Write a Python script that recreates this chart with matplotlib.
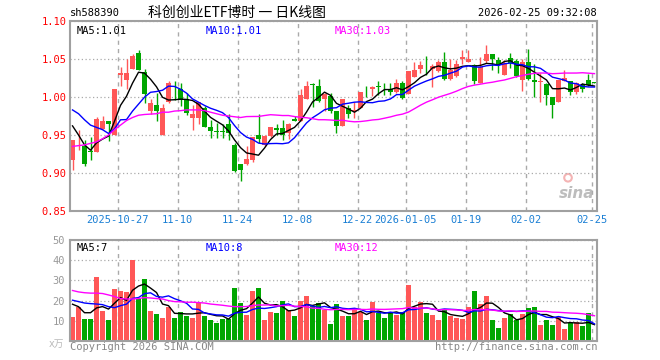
import numpy as np
import pandas as pd
import matplotlib
matplotlib.use("Agg")
import matplotlib.pyplot as plt

plt.rcParams['font.family'] = ['DejaVu Sans Mono', 'Noto Sans CJK SC']

# daily OHLC, 2025-10-15 .. 2026-02-25
opens = [0.917, 0.943, 0.935, 0.929, 0.928, 0.958, 0.968, 0.950, 1.029, 1.023,
         1.037, 1.058, 1.033, 0.981, 0.990, 0.950, 0.994, 1.007, 1.010, 0.997,
         0.972, 0.972, 0.985, 0.961, 0.955, 0.955, 0.965, 0.937, 0.912, 0.912,
         0.917, 0.950, 0.937, 0.949, 0.959, 0.959, 0.952, 0.971, 0.969, 0.997,
         1.017, 1.015, 0.998, 1.001, 0.982, 0.962, 0.986, 0.981, 0.986, 1.007,
         1.010, 1.014, 1.011, 1.010, 1.007, 1.018, 1.004, 1.026, 1.037, 1.040,
         1.037, 1.034, 1.046, 1.024, 1.027, 1.050, 1.046, 1.042, 1.018, 1.047,
         1.057, 1.049, 1.029, 1.051, 1.048, 1.023, 1.046, 1.022, 1.020, 1.017,
         1.000, 0.994, 1.0215, 1.021, 1.007, 1.016, 1.023, 1.0195]
highs = [0.944, 0.957, 0.944, 0.947, 0.974, 0.975, 0.968, 1.010, 1.040, 1.050,
         1.056, 1.062, 1.037, 0.997, 1.005, 0.991, 1.021, 1.021, 1.018, 1.005,
         0.990, 0.994, 0.988, 0.970, 0.966, 0.964, 0.977, 0.940, 0.912, 0.935,
         0.948, 0.978, 0.950, 0.961, 0.964, 0.970, 0.966, 0.975, 1.010, 1.021,
         1.018, 1.024, 1.005, 1.005, 0.982, 0.998, 0.989, 0.994, 1.007, 1.015,
         1.014, 1.021, 1.019, 1.019, 1.024, 1.021, 1.034, 1.046, 1.048, 1.054,
         1.044, 1.049, 1.059, 1.050, 1.049, 1.062, 1.062, 1.043, 1.053, 1.068,
         1.057, 1.053, 1.049, 1.058, 1.050, 1.050, 1.063, 1.043, 1.032, 1.018,
         1.000, 1.023, 1.036, 1.021, 1.020, 1.019, 1.030, 1.020]
lows = [0.904, 0.930, 0.909, 0.917, 0.927, 0.958, 0.942, 0.950, 1.014, 1.010,
        1.037, 1.036, 0.992, 0.978, 0.969, 0.950, 0.992, 0.996, 0.988, 0.976,
        0.957, 0.964, 0.960, 0.946, 0.946, 0.946, 0.944, 0.901, 0.889, 0.910,
        0.914, 0.939, 0.936, 0.948, 0.950, 0.944, 0.945, 0.968, 0.968, 0.997,
        0.987, 0.993, 0.982, 0.979, 0.953, 0.962, 0.972, 0.972, 0.985, 1.000,
        1.001, 1.003, 1.003, 1.002, 1.005, 0.997, 1.004, 1.026, 1.032, 1.029,
        1.013, 1.033, 1.023, 1.023, 1.026, 1.044, 1.046, 1.017, 1.018, 1.045,
        1.036, 1.032, 1.029, 1.038, 1.026, 1.008, 1.022, 1.000, 0.994, 0.989,
        0.973, 0.993, 1.021, 1.002, 1.004, 1.007, 1.015, 1.019]
closes = [0.943, 0.944, 0.912, 0.928, 0.971, 0.968, 0.964, 1.010, 1.032, 1.031,
          1.054, 1.036, 1.004, 0.992, 0.981, 0.985, 1.018, 1.006, 0.996, 0.979,
          0.978, 0.993, 0.961, 0.955, 0.954, 0.954, 0.953, 0.902, 0.904, 0.919,
          0.947, 0.945, 0.949, 0.960, 0.956, 0.950, 0.965, 0.969, 1.002, 1.015,
          1.016, 0.995, 1.004, 0.981, 0.962, 0.997, 0.977, 0.983, 1.007, 1.006,
          1.013, 1.013, 1.010, 1.007, 1.018, 0.999, 1.034, 1.036, 1.042, 1.039,
          1.041, 1.046, 1.024, 1.035, 1.044, 1.053, 1.050, 1.021, 1.040, 1.057,
          1.050, 1.042, 1.045, 1.045, 1.028, 1.046, 1.024, 1.020, 1.020, 1.002,
          0.989, 1.023, 1.025, 1.007, 1.019, 1.011, 1.016, 1.019]
# volume, 10k shares
volumes = [11.7, 16.7, 11.0, 11.0, 31.5, 15.0, 10.5, 25.5, 25.0, 24.5,
           40.0, 21.0, 30.5, 15.0, 13.5, 11.5, 17.0, 11.5, 14.5, 12.5,
           11.5, 19.0, 12.5, 10.5, 9.0, 11.0, 11.0, 26.0, 19.0, 13.0,
           25.0, 26.0, 10.5, 14.5, 14.0, 20.0, 15.5, 12.5, 20.0, 22.5,
           17.5, 19.0, 15.5, 8.5, 18.5, 12.5, 12.5, 15.5, 14.5, 10.5,
           19.5, 14.0, 11.5, 14.0, 13.0, 14.5, 27.5, 17.0, 19.5, 14.0,
           13.0, 10.5, 15.5, 12.5, 11.5, 11.0, 17.0, 25.0, 18.5, 22.5,
           10.5, 6.5, 11.5, 13.5, 10.5, 13.5, 16.5, 17.0, 8.0, 10.5,
           8.0, 12.0, 6.0, 9.0, 9.5, 7.5, 14.0, 0.5]

# moving-average values at the left edge (history before the window)
ma5_head = [0.962, 0.950, 0.937, 0.930]
ma10_head = [0.983, 0.978, 0.970, 0.963, 0.960, 0.957, 0.952, 0.958, 0.970]
ma30_head = [0.935, 0.936, 0.937, 0.939, 0.941, 0.945, 0.950, 0.957, 0.963, 0.969,
             0.973, 0.976, 0.977, 0.9775, 0.978, 0.980, 0.980, 0.9815, 0.982, 0.983,
             0.983, 0.983, 0.982, 0.980, 0.978, 0.976, 0.975, 0.974, 0.973]
vma5_head = [18.2, 17.0, 14.0, 14.0]
vma10_head = [20.2, 19.5, 18.8, 18.5, 18.3, 18.0, 17.0, 16.5, 17.5]
vma30_head = [25.0, 24.3, 23.9, 23.7, 23.7, 23.5, 22.8, 22.0, 21.0, 20.8,
              20.8, 21.0, 21.5, 21.3, 21.0, 20.8, 20.0, 19.5, 19.4, 19.2,
              19.2, 19.0, 18.8, 18.3, 18.0, 17.7, 17.3, 17.0, 17.0]

tick_idx = [8, 18, 28, 38, 48, 56, 66, 76, 87]
tick_labels = ["2025-10-27", "11-10", "11-24", "12-08", "12-22",
               "2026-01-05", "01-19", "02-02", "02-25"]

UP = '#FF5757'
DOWN = '#00A600'
GRID = '#aaaaaa'
SPINE = '#a0a0a0'

o = np.array(opens)
h = np.array(highs)
l = np.array(lows)
c = np.array(closes)
v = np.array(volumes)
x = np.arange(len(c))
cols = np.where(c >= o, UP, DOWN)


def moving_avg(values, n, head):
    s = pd.Series(values).rolling(n).mean().to_numpy()
    s[:n - 1] = head
    return s


ma = {5: moving_avg(c, 5, ma5_head), 10: moving_avg(c, 10, ma10_head),
      30: moving_avg(c, 30, ma30_head)}
vma = {5: moving_avg(v, 5, vma5_head), 10: moving_avg(v, 10, vma10_head),
       30: moving_avg(v, 30, vma30_head)}
ma_cols = {5: 'black', 10: '#0000ff', 30: '#ff00ff'}

W, H = 660, 360
fig = plt.figure(figsize=(W / 100, H / 100), dpi=100)
ax = fig.add_axes([70 / W, 149 / H, 527 / W, 190 / H])
axv = fig.add_axes([70 / W, 19 / H, 527 / W, 101 / H])

xmin, xmax = -0.42, 87.42
grid_x = [i - 0.45 for i in tick_idx]

for a in (ax, axv):
    a.set_xlim(xmin, xmax)
    for s in a.spines.values():
        s.set_color(SPINE)
        s.set_linewidth(1.5)
    a.set_xticks(grid_x)
    a.tick_params(length=0)
    a.grid(axis='x', color=GRID, linestyle=(0, (3, 3)), linewidth=1)
    a.grid(axis='y', color=GRID, linestyle=(0, (1, 2)), linewidth=0.9)
    a.set_axisbelow(True)

# sina watermark
ax.text(0.995, 0.055, "sina", transform=ax.transAxes, color='#bdbdbd',
        fontsize=11, fontweight='bold', style='italic', ha='right', va='bottom',
        family='DejaVu Sans', zorder=0)
ax.scatter([0.945], [0.175], s=30, transform=ax.transAxes, facecolor='none',
           edgecolor='#f4b4b4', linewidth=1.5, zorder=0)

# candles
body = np.maximum(np.abs(c - o), 0.0007)
ax.vlines(x, l, h, colors=cols, linewidth=1)
ax.bar(x, body, bottom=np.minimum(o, c), width=0.82, color=cols, linewidth=0)
for n in (5, 10, 30):
    ax.plot(x, ma[n], color=ma_cols[n], linewidth=1)

ax.set_ylim(0.85, 1.10)
ax.set_yticks([0.85, 0.90, 0.95, 1.00, 1.05, 1.10])
ax.set_yticklabels(["0.85", "0.90", "0.95", "1.00", "1.05", "1.10"],
                   color='red', fontsize=7.5)
ax.set_xticklabels(tick_labels, color='#1a7fd4', fontsize=7.5)
ax.tick_params(axis='y', pad=2.5)
ax.tick_params(axis='x', pad=3)

ax.text(0.012, 0.975, "MA5:1.01", transform=ax.transAxes, color='black',
        fontsize=7.5, va='top')
ax.text(0.257, 0.975, "MA10:1.01", transform=ax.transAxes, color='#0000ff',
        fontsize=7.5, va='top')
ax.text(0.503, 0.975, "MA30:1.03", transform=ax.transAxes, color='#ff00ff',
        fontsize=7.5, va='top')

# volume
axv.bar(x, v, width=0.82, color=cols, linewidth=0)
for n in (5, 10, 30):
    axv.plot(x, vma[n], color=ma_cols[n], linewidth=1)
axv.set_ylim(0, 50)
axv.set_yticks([10, 20, 30, 40, 50])
axv.set_yticklabels(["10", "20", "30", "40", "50"], color='#999999', fontsize=7.5)
axv.set_xticklabels([])
axv.tick_params(axis='y', pad=3.5)
axv.text(0.012, 0.97, "MA5:7", transform=axv.transAxes, color='black',
         fontsize=7.5, va='top')
axv.text(0.257, 0.97, "MA10:8", transform=axv.transAxes, color='#0000ff',
         fontsize=7.5, va='top')
axv.text(0.503, 0.97, "MA30:12", transform=axv.transAxes, color='#ff00ff',
         fontsize=7.5, va='top')

# header / footer
fig.text(70 / W, 1 - 13 / H, "sh588390", fontsize=7.5, va='center')
fig.text(237 / W, 1 - 13 / H, "科创创业ETF博时 一 日K线图", fontsize=10,
         ha='center', va='center', family=['Noto Sans CJK SC', 'DejaVu Sans'])
fig.text(597 / W, 1 - 13 / H, "2026-02-25 09:32:08", fontsize=7.5,
         ha='right', va='center')
fig.text(70 / W, 1 - 347 / H, "Copyright 2026 SINA.COM", fontsize=7.5,
         color='#888888', va='center')
fig.text(597 / W, 1 - 347 / H, "http://finance.sina.com.cn", fontsize=7.5,
         color='#888888', ha='right', va='center')
fig.text(56 / W, 1 - 344 / H, "x万", fontsize=7, color='#bbbbbb',
         ha='center', va='center', family=['DejaVu Sans', 'Noto Sans CJK SC'])

fig.savefig("out.png", dpi=100)
